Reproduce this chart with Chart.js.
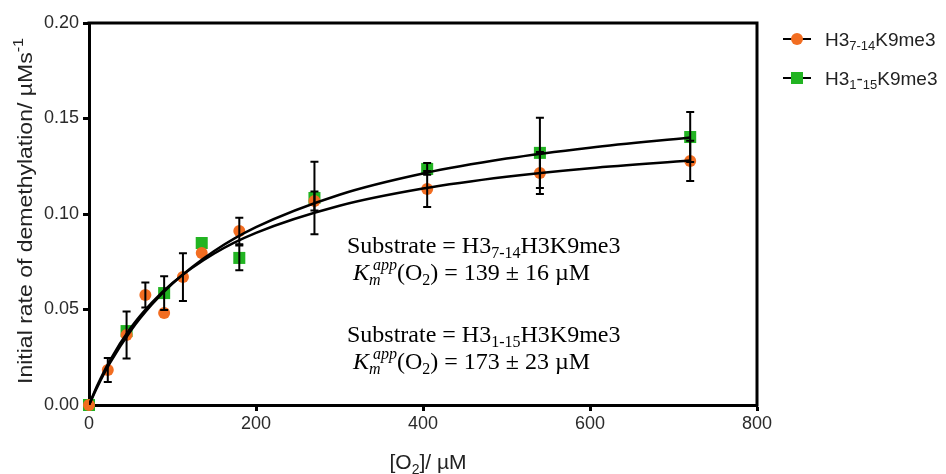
<!DOCTYPE html>
<html>
<head>
<meta charset="utf-8">
<script src="https://cdn.jsdelivr.net/npm/chart.js@4.4.1/dist/chart.umd.min.js"></script>
<style>
  html, body { margin: 0; padding: 0; background: #fff; }
  #wrap { width: 946px; height: 474px; }
</style>
</head>
<body>
<div id="wrap"><canvas id="grafico"></canvas></div>
<script>
// valores
const o2_7_14 = [0, 22.5, 45, 67.5, 90, 112.5, 135, 180, 270, 405, 540, 720];
const taxa_7_14 = [0, 0.0183, 0.0367, 0.0576, 0.0482, 0.0670, 0.0796, 0.0911, 0.1068, 0.1131, 0.1215, 0.1278];
const erro_7_14 = [0, 0.0063, 0.0123, 0.0065, 0, 0.0125, 0, 0.0070, 0.0050, 0.0094, 0.0110, 0.0105];

const o2_1_15 = [0, 45, 90, 135, 180, 270, 405, 540, 720];
const taxa_1_15 = [0, 0.0387, 0.0586, 0.0848, 0.0770, 0.1084, 0.1236, 0.1320, 0.1403];
const erro_1_15 = [0, 0, 0.0088, 0, 0.0065, 0.0190, 0.0031, 0.0184, 0.0131];

// curvas ajustadas
const ajusteX = [0, 10, 25, 50, 75, 100, 150, 200, 300, 400, 500, 600, 720];
const ajuste_7_14 = [0, 0.0103, 0.0233, 0.0404, 0.0535, 0.0639, 0.0793, 0.0901, 0.1043, 0.1133, 0.1195, 0.1240, 0.1280];
const ajuste_1_15 = [0, 0.0095, 0.0219, 0.0389, 0.0525, 0.0636, 0.0806, 0.0931, 0.1101, 0.1212, 0.1290, 0.1347, 0.1400];

const xTicks = [0, 200, 400, 600, 800];
const yTicks = [0, 0.05, 0.10, 0.15, 0.20];

const LARANJA = '#f26d21';
const VERDE = '#22b422';
const SANS = "'Liberation Sans', Arial, sans-serif";
const SERIF = "'Liberation Serif', 'Times New Roman', serif";

const pares = (xs, ys) => xs.map((v, i) => ({ x: v, y: ys[i] }));

// desenha texto com partes sub/sobrescritas
function textoRico(ctx, x, y, partes) {
  let cx = x;
  let guardaX = null;
  partes.forEach(p => {
    ctx.font = `${p.italic ? 'italic ' : ''}${p.size}px ${p.family}`;
    if (p.stack) cx = guardaX + p.stack;
    if (p.mark) guardaX = cx;
    ctx.fillText(p.t, cx, y + (p.dy || 0));
    cx += ctx.measureText(p.t).width;
  });
  return cx - x;
}

function larguraRica(ctx, partes) {
  let w = 0;
  partes.forEach(p => {
    ctx.font = `${p.italic ? 'italic ' : ''}${p.size}px ${p.family}`;
    w += ctx.measureText(p.t).width;
  });
  return w;
}

const extras = {
  id: 'extras',
  afterDatasetsDraw(chart) {
    const { ctx, scales: { x, y } } = chart;
    ctx.save();
    ctx.strokeStyle = '#000';
    ctx.lineWidth = 2;
    const barras = (xs, ys, es) => xs.forEach((xv, i) => {
      if (!es[i]) return;
      const px = x.getPixelForValue(xv);
      const topo = y.getPixelForValue(ys[i] + es[i]);
      const base = y.getPixelForValue(ys[i] - es[i]);
      ctx.beginPath();
      ctx.moveTo(px, topo); ctx.lineTo(px, base);
      ctx.moveTo(px - 4, topo); ctx.lineTo(px + 4, topo);
      ctx.moveTo(px - 4, base); ctx.lineTo(px + 4, base);
      ctx.stroke();
    });
    barras(o2_7_14, taxa_7_14, erro_7_14);
    barras(o2_1_15, taxa_1_15, erro_1_15);
    ctx.restore();
  },
  afterDraw(chart) {
    const { ctx, chartArea: a } = chart;
    ctx.save();

    // moldura superior e direita
    ctx.strokeStyle = '#000';
    ctx.lineWidth = 3;
    ctx.beginPath();
    ctx.moveTo(a.left - 1.5, a.top);
    ctx.lineTo(a.right, a.top);
    ctx.lineTo(a.right, a.bottom + 1.5);
    ctx.stroke();

    // título do eixo y
    ctx.fillStyle = '#222';
    ctx.textBaseline = 'alphabetic';
    const tituloY = [
      { t: 'Initial rate of demethylation/ \u00b5Ms', size: 20, family: SANS },
      { t: '-1', size: 14, family: SANS, dy: -9 }
    ];
    ctx.save();
    ctx.translate(32, (a.top + a.bottom) / 2 - 3);
    ctx.rotate(-Math.PI / 2);
    ctx.scale(1.15, 1);
    const wy = larguraRica(ctx, tituloY);
    textoRico(ctx, -wy / 2, 0, tituloY);
    ctx.restore();

    // título do eixo x
    const tituloX = [
      { t: '[O', size: 21, family: SANS },
      { t: '2', size: 14, family: SANS, dy: 5 },
      { t: ']/ \u00b5M', size: 21, family: SANS }
    ];
    const wx = larguraRica(ctx, tituloX);
    textoRico(ctx, (a.left + a.right) / 2 + 5 - wx / 2, 469, tituloX);

    // legenda
    const itens = [
      { cor: LARANJA, forma: 'circulo', partes: [
        { t: 'H3', size: 19, family: SANS },
        { t: '7-14', size: 13, family: SANS, dy: 4 },
        { t: 'K9me3', size: 19, family: SANS }
      ] },
      { cor: VERDE, forma: 'quadrado', partes: [
        { t: 'H3', size: 19, family: SANS },
        { t: '1', size: 13, family: SANS, dy: 4 },
        { t: '-', size: 19, family: SANS },
        { t: '15', size: 13, family: SANS, dy: 4 },
        { t: 'K9me3', size: 19, family: SANS }
      ] }
    ];
    itens.forEach((it, i) => {
      const ly = 39 + i * 39;
      ctx.strokeStyle = '#000';
      ctx.lineWidth = 2;
      ctx.beginPath();
      ctx.moveTo(783, ly); ctx.lineTo(811, ly);
      ctx.stroke();
      ctx.fillStyle = it.cor;
      if (it.forma === 'circulo') {
        ctx.beginPath(); ctx.arc(797, ly, 6, 0, Math.PI * 2); ctx.fill();
      } else {
        ctx.fillRect(791, ly - 6, 12, 12);
      }
      ctx.fillStyle = '#222';
      textoRico(ctx, 825, ly + 7, it.partes);
    });

    // anotações
    ctx.fillStyle = '#000';
    const blocos = [
      { x: 347, y: 253, partes: [
        { t: 'Substrate = H3', size: 24, family: SERIF },
        { t: '7-14', size: 16, family: SERIF, dy: 5 },
        { t: 'H3K9me3', size: 24, family: SERIF }
      ] },
      { x: 353, y: 280, partes: [
        { t: 'K', size: 24, family: SERIF, italic: true },
        { t: 'm', size: 16, family: SERIF, italic: true, dy: 5, mark: true },
        { t: 'app', size: 16, family: SERIF, italic: true, dy: -10, stack: 4 },
        { t: '(O', size: 24, family: SERIF },
        { t: '2', size: 16, family: SERIF, dy: 5 },
        { t: ') = 139 \u00b1 16 \u00b5M', size: 24, family: SERIF }
      ] },
      { x: 347, y: 342, partes: [
        { t: 'Substrate = H3', size: 24, family: SERIF },
        { t: '1-15', size: 16, family: SERIF, dy: 5 },
        { t: 'H3K9me3', size: 24, family: SERIF }
      ] },
      { x: 353, y: 369, partes: [
        { t: 'K', size: 24, family: SERIF, italic: true },
        { t: 'm', size: 16, family: SERIF, italic: true, dy: 5, mark: true },
        { t: 'app', size: 16, family: SERIF, italic: true, dy: -10, stack: 4 },
        { t: '(O', size: 24, family: SERIF },
        { t: '2', size: 16, family: SERIF, dy: 5 },
        { t: ') = 173 \u00b1 23 \u00b5M', size: 24, family: SERIF }
      ] }
    ];
    blocos.forEach(b => textoRico(ctx, b.x, b.y, b.partes));

    ctx.restore();
  }
};

const ctx = document.getElementById('grafico').getContext('2d');
new Chart(ctx, {
  type: 'scatter',
  data: {
    datasets: [
      {
        label: 'H3 7-14 K9me3',
        data: pares(o2_7_14, taxa_7_14),
        backgroundColor: LARANJA,
        borderWidth: 0,
        pointStyle: 'circle',
        pointRadius: 6,
        clip: false,
        order: 2
      },
      {
        label: 'H3 1-15 K9me3',
        data: pares(o2_1_15, taxa_1_15),
        backgroundColor: VERDE,
        borderWidth: 0,
        pointStyle: 'rect',
        pointRadius: 8.5,
        clip: false,
        order: 3
      },
      {
        type: 'line',
        label: 'ajuste 7-14',
        data: pares(ajusteX, ajuste_7_14),
        borderColor: '#000',
        borderWidth: 2.5,
        pointRadius: 0,
        fill: false,
        cubicInterpolationMode: 'monotone',
        order: 1
      },
      {
        type: 'line',
        label: 'ajuste 1-15',
        data: pares(ajusteX, ajuste_1_15),
        borderColor: '#000',
        borderWidth: 2.5,
        pointRadius: 0,
        fill: false,
        cubicInterpolationMode: 'monotone',
        order: 1
      }
    ]
  },
  options: {
    responsive: true,
    maintainAspectRatio: false,
    animation: false,
    events: [],
    layout: { padding: { left: 0, right: 189, top: 23, bottom: 0 } },
    plugins: {
      legend: { display: false },
      tooltip: { enabled: false }
    },
    scales: {
      x: {
        type: 'linear',
        min: 0,
        max: 800,
        afterBuildTicks: s => { s.ticks = xTicks.map(v => ({ value: v })); },
        afterFit: s => { s.height = 69; },
        ticks: {
          padding: 2,
          color: '#2a2a2a',
          font: { family: SANS, size: 18 }
        },
        grid: {
          display: true,
          drawOnChartArea: false,
          drawTicks: true,
          tickLength: 6,
          tickWidth: 3,
          tickColor: '#000'
        },
        border: { display: true, color: '#000', width: 3 }
      },
      y: {
        type: 'linear',
        min: 0,
        max: 0.2,
        afterBuildTicks: s => { s.ticks = yTicks.map(v => ({ value: v })); },
        afterFit: s => { s.width = 89; },
        ticks: {
          padding: 4,
          color: '#2a2a2a',
          font: { family: SANS, size: 18 },
          callback: v => v.toFixed(2)
        },
        grid: {
          display: true,
          drawOnChartArea: false,
          drawTicks: true,
          tickLength: 6,
          tickWidth: 3,
          tickColor: '#000'
        },
        border: { display: true, color: '#000', width: 3 }
      }
    }
  },
  plugins: [extras]
});
</script>
</body>
</html>
